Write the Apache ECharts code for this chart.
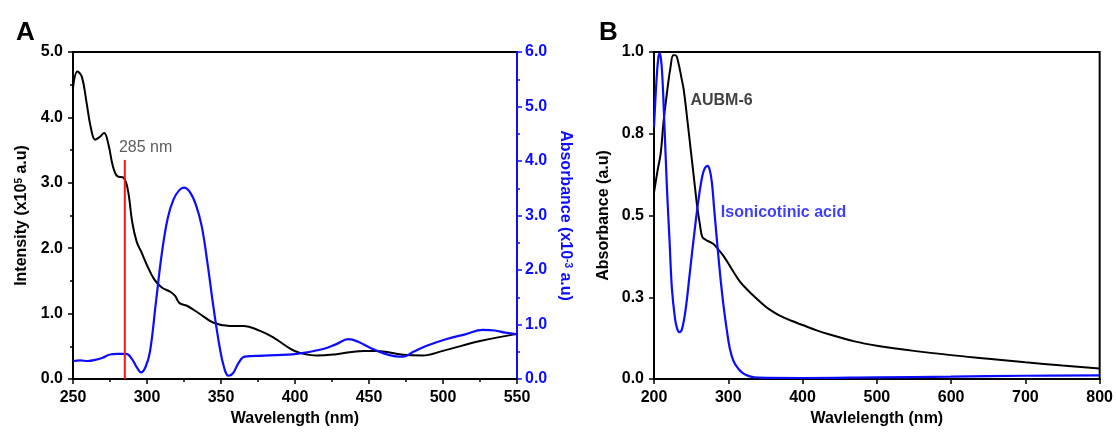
<!DOCTYPE html>
<html>
<head>
<meta charset="utf-8">
<script src="https://cdn.jsdelivr.net/npm/echarts@6/dist/echarts.min.js"></script>
<style>
html,body{margin:0;padding:0;background:#fff;}
#c{width:1116px;height:432px;}
</style>
</head>
<body>
<div id="c"></div>
<script>
// ---------- Panel A data ----------
const aIntensityWl = [250,253,256,259,262,265,268,271,274,277,280,284,287,290,293,296,300,305,310,316,319,322,327,336,345,356,365,376,385,397,403,415,428,446,455,473,486,500,525,550];
const aIntensity   = [4.45,4.70,4.62,4.25,3.85,3.66,3.70,3.76,3.58,3.25,3.10,3.08,2.90,2.40,2.10,1.95,1.74,1.52,1.40,1.33,1.27,1.16,1.12,0.99,0.86,0.81,0.81,0.74,0.64,0.46,0.40,0.36,0.38,0.43,0.43,0.37,0.36,0.43,0.58,0.69];

const aAbsWl = [250,255,260,265,270,275,280,286,290,293,296,299,302,306,310,314,318,322,325,329,333,337,341,345,349,352,355,358,362,366,379,401,419,428,436,443,451,460,467,473,480,489,502,515,527,535,542,550];
const aAbs   = [0.33,0.34,0.33,0.35,0.39,0.45,0.46,0.46,0.36,0.22,0.12,0.22,0.50,1.40,2.30,2.95,3.30,3.47,3.51,3.43,3.20,2.80,2.10,1.30,0.60,0.22,0.06,0.10,0.30,0.41,0.43,0.46,0.55,0.64,0.73,0.68,0.57,0.47,0.42,0.41,0.50,0.61,0.73,0.82,0.90,0.89,0.85,0.82];

const markerWl = 285;
const markerTop = 3.35;
const markerText = '285 nm';
const markerLabelPos = [281, 3.54];

// ---------- Panel B data ----------
const bAubmWl = [200,205,209,213,218,222,226,229,233,237,240,245,249,254,258,262,265,270,280,287,294,305,316,327,338,350,360,370,385,400,420,440,470,500,550,600,650,700,750,800];
const bAubm   = [0.57,0.64,0.69,0.79,0.885,0.95,0.99,0.99,0.965,0.92,0.885,0.79,0.71,0.61,0.53,0.47,0.435,0.425,0.413,0.395,0.375,0.335,0.297,0.27,0.246,0.222,0.206,0.193,0.178,0.165,0.148,0.134,0.115,0.102,0.086,0.073,0.062,0.051,0.041,0.032];

const bIsoWl = [200,202,204,206,207.5,209,211,214,217.5,221,224,228,231,234.5,238,243,248,254,260,265,268.5,272,275,278,281,284.5,289,293.5,298,302,307,313,320,329,340,400,500,600,700,800];
const bIso   = [0.77,0.86,0.935,0.985,0.996,0.985,0.935,0.78,0.58,0.42,0.28,0.19,0.155,0.143,0.155,0.22,0.32,0.44,0.55,0.62,0.645,0.652,0.64,0.60,0.52,0.43,0.32,0.226,0.15,0.094,0.055,0.033,0.017,0.008,0.004,0.003,0.005,0.007,0.010,0.011];

const aubmLabel = 'AUBM-6', aubmLabelPos = [249, 0.85];
const isoLabel = 'Isonicotinic acid', isoLabelPos = [290, 0.51];

// ticks
const aXTicks = {min:250, max:550, interval:50};
const aYLeft  = {min:0, max:5, interval:1};
const aYRight = {min:0, max:6, interval:1};
const bXTicks = {min:200, max:800, interval:100};
const bY      = {min:0, max:1, interval:0.25};

const zip = (xs, ys) => xs.map((x, i) => [x, ys[i]]);

const FONT = "'Liberation Sans', Arial, sans-serif";
const BLUE = '#0c0cff';
const labelStyle = (c) => ({color:c, fontSize:16, fontWeight:'bold', fontFamily:FONT});

function axisBase(color, margin){
  return {
    axisLine:{show:true, lineStyle:{color:color, width:2}},
    axisTick:{show:true, inside:false, length:5, lineStyle:{color:color, width:1.5}},
    splitLine:{show:false},
    axisLabel:Object.assign(labelStyle(color), {margin:margin}),
  };
}

const option = {
  animation:false,
  backgroundColor:'#fff',
  title:[
    {text:'A', left:11, top:15, textStyle:{fontSize:26, fontWeight:'bold', color:'#000', fontFamily:FONT}},
    {text:'B', left:594, top:15, textStyle:{fontSize:26, fontWeight:'bold', color:'#000', fontFamily:FONT}}
  ],
  grid:[
    {left:73, right:599, top:52, bottom:52, show:true, borderColor:'#000', borderWidth:2, backgroundColor:'transparent'},
    {left:654, right:14, top:52, bottom:51, show:true, borderColor:'#000', borderWidth:2, backgroundColor:'transparent'}
  ],
  xAxis:[
    Object.assign(axisBase('#000', 11), {
      type:'value', gridIndex:0, min:aXTicks.min, max:aXTicks.max, interval:aXTicks.interval,
      minorTick:{show:true, splitNumber:2, length:3, lineStyle:{color:'#000', width:1.5}},
      name:'Wavelength (nm)', nameLocation:'middle', nameGap:32,
      nameTextStyle:labelStyle('#000')
    }),
    Object.assign(axisBase('#000', 11), {
      type:'value', gridIndex:1, min:bXTicks.min, max:bXTicks.max, interval:bXTicks.interval,
      name:'Wavlelength (nm)', nameLocation:'middle', nameGap:32,
      nameTextStyle:labelStyle('#000')
    })
  ],
  yAxis:[
    Object.assign(axisBase('#000', 10), {
      type:'value', gridIndex:0, position:'left', min:aYLeft.min, max:aYLeft.max, interval:aYLeft.interval,
      minorTick:{show:true, splitNumber:2, length:3, lineStyle:{color:'#000', width:1.5}},
      axisLabel:Object.assign(labelStyle('#000'), {margin:10, formatter:v => v.toFixed(1)}),
      name:'Intensity (x10{sup|5} a.u)', nameLocation:'middle', nameGap:43, nameRotate:90,
      nameTextStyle:Object.assign(labelStyle('#000'), {rich:{sup:{fontSize:10, fontWeight:'bold', color:'#000', fontFamily:FONT, verticalAlign:'top', padding:[0,0,6,0]}}})
    }),
    Object.assign(axisBase(BLUE, 8), {
      type:'value', gridIndex:0, position:'right', min:aYRight.min, max:aYRight.max, interval:aYRight.interval,
      minorTick:{show:true, splitNumber:2, length:3, lineStyle:{color:BLUE, width:1.5}},
      axisLabel:Object.assign(labelStyle(BLUE), {margin:8, formatter:v => v.toFixed(1)}),
      name:'Absorbance (x10{sup|-3} a.u)', nameLocation:'middle', nameGap:40, nameRotate:-90,
      nameTextStyle:Object.assign(labelStyle(BLUE), {rich:{sup:{fontSize:10, fontWeight:'bold', color:BLUE, fontFamily:FONT, verticalAlign:'top', padding:[0,0,6,0]}}})
    }),
    Object.assign(axisBase('#000', 10), {
      type:'value', gridIndex:1, position:'left', min:bY.min, max:bY.max, interval:bY.interval,
      axisLabel:Object.assign(labelStyle('#000'), {margin:10, formatter:v => v.toFixed(1)}),
      name:'Absorbance (a.u)', nameLocation:'middle', nameGap:42, nameRotate:90,
      nameTextStyle:labelStyle('#000')
    })
  ],
  series:[
    {type:'line', xAxisIndex:0, yAxisIndex:0, data:zip(aIntensityWl, aIntensity), smooth:0.4, symbol:'none',
     lineStyle:{color:'#000', width:2}, z:3},
    {type:'line', xAxisIndex:0, yAxisIndex:1, data:zip(aAbsWl, aAbs), smooth:0.4, symbol:'none',
     lineStyle:{color:BLUE, width:2.2}, z:4},
    {type:'line', xAxisIndex:0, yAxisIndex:0, data:[[markerWl, 0],[markerWl, markerTop]], symbol:'none',
     lineStyle:{color:'#ff1010', width:2}, z:5},
    {type:'scatter', xAxisIndex:0, yAxisIndex:0, data:[markerLabelPos], symbolSize:0,
     label:{show:true, position:'right', distance:0, formatter:markerText, color:'#333', fontSize:16, fontFamily:FONT}},
    {type:'line', xAxisIndex:1, yAxisIndex:2, data:zip(bAubmWl, bAubm), smooth:0.4, symbol:'none',
     lineStyle:{color:'#000', width:2}, z:3},
    {type:'line', xAxisIndex:1, yAxisIndex:2, data:zip(bIsoWl, bIso), smooth:0.4, symbol:'none',
     lineStyle:{color:BLUE, width:2.2}, z:4},
    {type:'scatter', xAxisIndex:1, yAxisIndex:2, data:[aubmLabelPos], symbolSize:0,
     label:{show:true, position:'right', distance:0, formatter:aubmLabel, color:'#111', fontSize:16, fontWeight:'bold', fontFamily:FONT}},
    {type:'scatter', xAxisIndex:1, yAxisIndex:2, data:[isoLabelPos], symbolSize:0,
     label:{show:true, position:'right', distance:0, formatter:isoLabel, color:BLUE, fontSize:16, fontWeight:'bold', fontFamily:FONT}}
  ]
};

const chart = echarts.init(document.getElementById('c'), null, {renderer:'canvas'});
chart.setOption(option);
</script>
</body>
</html>
